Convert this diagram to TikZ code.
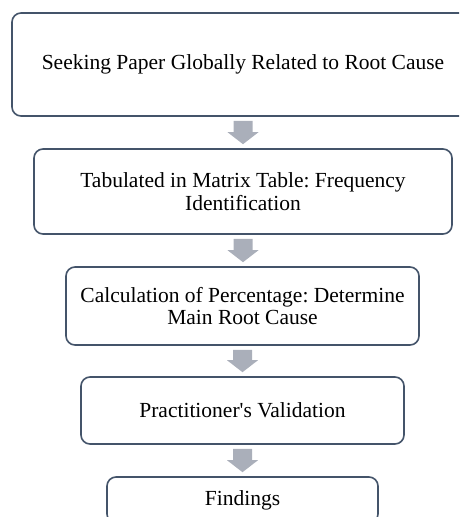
\documentclass[tikz,border=0pt]{standalone}
\usepackage{fontspec}
\setmainfont{Liberation Serif}
\frenchspacing
\usetikzlibrary{calc}
\definecolor{boxline}{RGB}{68,84,106}
\definecolor{arrowgray}{RGB}{170,175,186}
\tikzset{
  stepbox/.style={draw=boxline, line width=1.6pt, rounded corners=9pt, fill=white,
    align=center, inner sep=0pt, font=\fontsize{21.5}{22.5}\selectfont},
  blockarrow/.style={fill=arrowgray, draw=none}
}
\newcommand\flowarrow[2]{%
  \path[blockarrow] let \p1=($(#1.south)+(0,-4)$), \p2=($(#2.north)+(0,4)$) in
    (\x1-9.5pt,\y1) -- (\x1+9.5pt,\y1) -- (\x1+9.5pt,\y2+12pt) -- (\x1+15.5pt,\y2+12pt)
    -- (\x1,\y2) -- (\x1-15.5pt,\y2+12pt) -- (\x1-9.5pt,\y2+12pt) -- cycle;}
\begin{document}
\begin{tikzpicture}[x=1pt,y=1pt]
\useasboundingbox (0,0) rectangle (459,-517);
\clip (0,0) rectangle (459,-517);
\node[stepbox, minimum width=462pt, minimum height=103pt] (b1) at (243,-64.5) {Seeking Paper Globally Related to Root Cause};
\node[stepbox, minimum width=418pt, minimum height=85pt] (b2) at (243,-191.5) {Tabulated in Matrix Table: Frequency\\Identification};
\node[stepbox, minimum width=353pt, minimum height=78pt] (b3) at (242.5,-306) {Calculation of Percentage: Determine\\Main Root Cause};
\node[stepbox, minimum width=323pt, minimum height=67pt] (b4) at (242.5,-410.5) {Practitioner\textquotesingle s Validation};
\node[stepbox, minimum width=271pt, minimum height=46pt] (b5) at (242.5,-500) {Findings};
\flowarrow{b1}{b2}
\flowarrow{b2}{b3}
\flowarrow{b3}{b4}
\flowarrow{b4}{b5}
\end{tikzpicture}
\end{document}
